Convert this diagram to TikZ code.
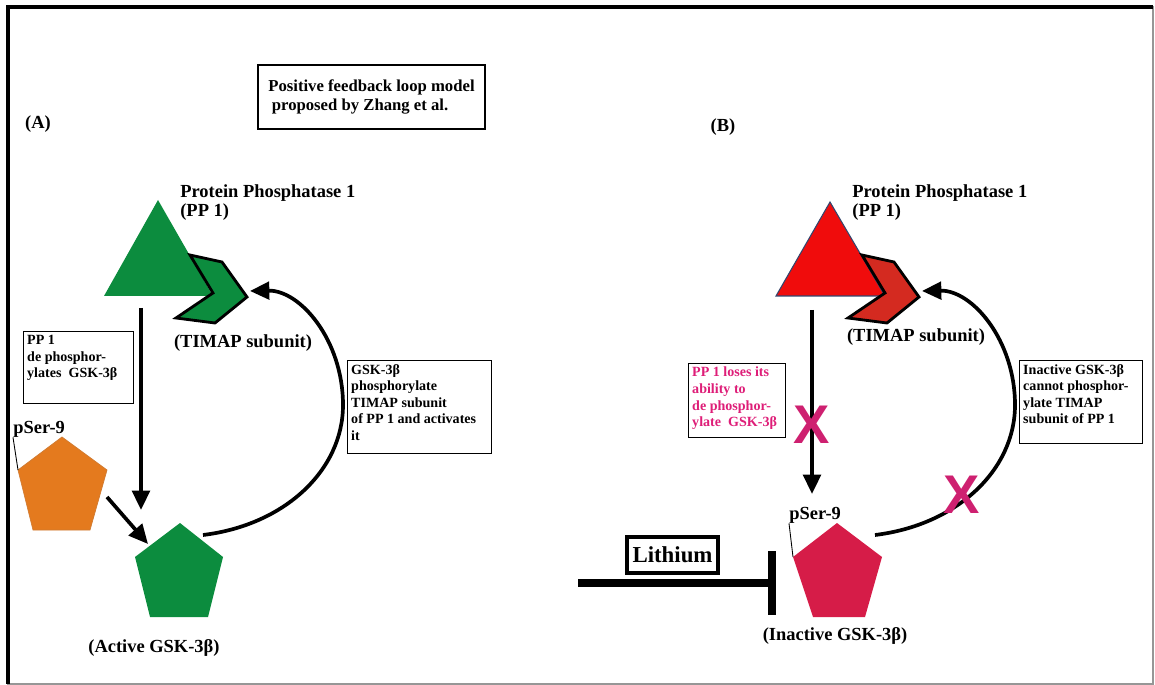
\documentclass[tikz,border=0pt]{standalone}
\usepackage{fontspec}
\setmainfont{Liberation Serif}
\setsansfont{Liberation Sans}
\usetikzlibrary{arrows.meta}
\definecolor{ppgreen}{RGB}{12,140,62}
\definecolor{serorange}{RGB}{228,122,30}
\definecolor{ppred}{RGB}{240,12,12}
\definecolor{timapred}{RGB}{212,42,32}
\definecolor{gskred}{RGB}{214,28,72}
\definecolor{xpink}{RGB}{206,32,112}
\definecolor{textpink}{RGB}{222,30,120}
\definecolor{edgeblue}{RGB}{50,70,110}
\definecolor{framegray}{RGB}{150,150,150}
\tikzset{
  lbl/.style={font=\fontsize{10.5}{11}\selectfont\bfseries, inner sep=0pt, align=left},
  notebox/.style={draw, line width=0.8pt, inner sep=2pt, anchor=north west,
    font=\fontsize{8}{9.4}\selectfont\bfseries},
  titlebox/.style={draw, line width=1pt, minimum width=4.54cm, minimum height=1.28cm,
    inner sep=0pt, align=left, font=\fontsize{9.5}{10.4}\selectfont\bfseries},
  flow/.style={line width=2.1pt, -{Triangle[length=11pt,width=10pt]}},
  timap/.style={draw=black, line width=1.6pt, line join=miter},
  nogo/.style={font=\fontsize{31}{31}\selectfont\sffamily\bfseries, text=xpink, inner sep=0pt},
  tether/.style={line width=0.5pt},
}
\begin{document}
\begin{tikzpicture}[x=0.02cm, y=-0.02cm]
  \useasboundingbox (0,0) rectangle (1155,685);
  % frame
  \draw[framegray, line width=1.1pt] (8,7) rectangle (1153,684);
  \draw[line width=2pt] (8,684) -- (8,7) -- (1153,7);

  \node[titlebox] (title) at (371.5,97) {Positive feedback loop model\\\hspace{2pt}proposed by Zhang et al.};
  \node[lbl] (labelA) at (38,124) {(A)};
  \node[lbl] (labelB) at (723,127) {(B)};

  %%% (A) active loop
  \fill[ppgreen] (158,200) -- (104,296) -- (213,296) -- cycle;
  \filldraw[timap, fill=ppgreen] (190,255) -- (222,262) -- (247,297) -- (215,323) -- (176,318) -- (213,293) -- cycle;
  \fill[serorange, draw=serorange!80!gray, line width=0.4pt] (62,437) -- (107,470) -- (90,530) -- (33,530) -- (18,470) -- cycle;
  \fill[ppgreen] (180,523) -- (223,557) -- (208,617) -- (150,617) -- (135,557) -- cycle;

  \coordinate (pp1A-base) at (141,308);
  \coordinate (gskA-top) at (141,510);
  \coordinate (serA-out) at (107,497);
  \coordinate (gskA-side) at (148,544);
  \coordinate (gskA-out) at (203,535);
  \coordinate (timapA-tip) at (250,291);
  \coordinate (serA-left) at (18,470);

  \node[lbl, anchor=north west] (pp1A) at (180,184) {Protein Phosphatase 1\\(PP 1)};
  \node[lbl] (timapA) at (243,343) {(TIMAP subunit)};
  \node[lbl, anchor=base west] (pserA) at (13,433) {pSer-9};
  \node[lbl] (gskA) at (154,648) {(Active GSK-3β)};
  \draw[tether] (pserA.south west) -- (serA-left);

  \node[notebox] (dephosA) at (23,331) {\parbox[t][1.3cm][t]{2.06cm}{PP 1\\de phosphor-\\ylates~ GSK-3β}};
  \node[notebox] (phosA) at (347,360) {\parbox[t][1.72cm][t]{2.74cm}{GSK-3β\\phosphorylate\\TIMAP subunit\\of PP 1 and activates\\it}};

  \draw[flow] (pp1A-base) -- (gskA-top);
  \draw[flow] (serA-out) -- (gskA-side);
  \draw[flow] (gskA-out) .. controls (285,525) and (343,470) .. (343,405)
                         .. controls (343,340) and (300,290) .. (timapA-tip);

  %%% (B) lithium blocks the loop
  \filldraw[fill=ppred, draw=edgeblue, line width=0.6pt] (830,202) -- (776,296) -- (885,296) -- cycle;
  \filldraw[timap, fill=timapred] (862,255) -- (894,262) -- (919,297) -- (887,323) -- (848,318) -- (885,293) -- cycle;
  \fill[gskred] (837,523) -- (882,557) -- (865,617) -- (813,617) -- (793,557) -- cycle;

  \coordinate (pp1B-base) at (812,310);
  \coordinate (gskB-top) at (812,494);
  \coordinate (gskB-out) at (875,535);
  \coordinate (timapB-tip) at (922,291);
  \coordinate (serB-left) at (793,557);
  \coordinate (lithium-from) at (578,583);
  \coordinate (lithium-stop) at (776,583);

  \node[lbl, anchor=north west] (pp1B) at (852,184) {Protein Phosphatase 1\\(PP 1)};
  \node[lbl] (timapB) at (916,337) {(TIMAP subunit)};
  \node[lbl, anchor=base west] (pserB) at (789,519) {pSer-9};
  \node[lbl] (gskB) at (835,636) {(Inactive GSK-3β)};
  \draw[tether] (pserB.south west) -- (serB-left);

  \node[notebox, text=textpink] (dephosB) at (688,363) {\parbox[t][1.34cm][t]{1.8cm}{PP 1 loses its\\ability to\\de phosphor-\\ylate~ GSK-3β}};
  \node[notebox] (phosB) at (1019,360) {\parbox[t][1.52cm][t]{2.32cm}{Inactive GSK-3β\\cannot phosphor-\\ylate TIMAP\\subunit of PP 1}};
  \node[draw, line width=2pt, minimum width=1.82cm, minimum height=0.72cm, inner sep=0pt,
        font=\fontsize{13}{13}\selectfont\bfseries] (lithium) at (672.5,555) {Lithium};

  \draw[flow] (pp1B-base) -- (gskB-top);
  \draw[flow] (gskB-out) .. controls (957,525) and (1015,470) .. (1015,405)
                         .. controls (1015,340) and (972,290) .. (timapB-tip);
  \draw[line width=4.5pt, -{Bar[width=36pt]}] (lithium-from) -- (lithium-stop);

  \node[nogo] (blockdown) at (812,425) {X};
  \node[nogo] (blockloop) at (962,495) {X};
\end{tikzpicture}
\end{document}
